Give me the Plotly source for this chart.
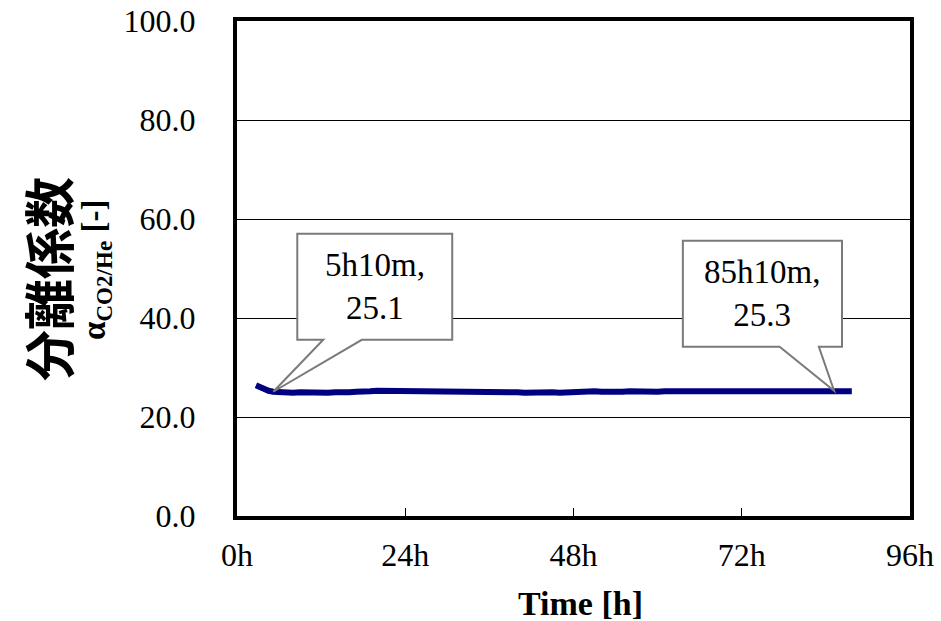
import plotly.graph_objects as go

# ---- data ----
time_h = [2.7, 3.2, 3.8, 4.5, 5.17, 6, 7, 8, 9, 10, 11, 12, 13, 14, 15, 16, 17, 18, 19, 20,
          21, 22, 23, 24, 25, 26, 27, 28, 29, 30, 31, 32, 33, 34, 35, 36, 37, 38, 39, 40,
          41, 42, 43, 44, 45, 46, 47, 48, 49, 50, 51, 52, 53, 54, 55, 56, 57, 58, 59, 60,
          61, 62, 63, 64, 65, 66, 67, 68, 69, 70, 71, 72, 73, 74, 75, 76, 77, 78, 79, 80,
          81, 82, 83, 84, 85.17, 86, 87, 87.7]
alpha = [26.4, 26.0, 25.6, 25.3, 25.1, 25.0, 24.9, 24.9, 25.0, 24.9, 24.9, 24.9, 24.9, 25.0, 24.9, 25.0, 25.1, 25.0, 25.2, 25.3,
         25.3, 25.2, 25.3, 25.2, 25.2, 25.1, 25.1, 25.1, 25.1, 25.1, 25.1, 25.1, 25.0, 25.2, 25.1, 25.1, 25.0, 25.2, 25.1, 25.0,
         24.9, 25.0, 24.9, 25.0, 25.0, 24.9, 25.0, 25.1, 25.0, 25.1, 25.2, 25.1, 25.0, 25.1, 25.1, 25.2, 25.1, 25.1, 25.2, 25.1,
         25.2, 25.2, 25.1, 25.2, 25.3, 25.2, 25.1, 25.2, 25.3, 25.2, 25.2, 25.3, 25.2, 25.3, 25.3, 25.3, 25.2, 25.3, 25.3, 25.2,
         25.3, 25.3, 25.2, 25.3, 25.3, 25.2, 25.3, 25.2]

x_ticks = [0, 24, 48, 72, 96]
x_tick_labels = ["0h", "24h", "48h", "72h", "96h"]
y_ticks = [0, 20, 40, 60, 80, 100]
y_tick_labels = ["0.0", "20.0", "40.0", "60.0", "80.0", "100.0"]

callout_points = [(5.17, 25.1, "5h10m,<br>25.1"), (85.17, 25.3, "85h10m,<br>25.3")]
# box extents (x0, x1, y0, y1) and pointer base (bx0, bx1), in data units
callout_boxes = [(8.6, 30.7, 35.6, 57.0, 12.3, 17.8), (63.6, 86.3, 34.2, 55.6, 77.4, 83.0)]

SERIF = "Times New Roman, Liberation Serif, serif"

L, R, T, B = 237, 31, 21, 105
W, H = 941, 621
pw, ph = W - L - R, H - T - B


def px2paper(x, y):
    return (x - L) / pw, 1 - (y - T) / ph


fig = go.Figure()
fig.add_trace(go.Scatter(x=time_h, y=alpha, mode="lines",
                         line=dict(color="#000080", width=6), hoverinfo="skip"))

shapes = []
annotations = []
for (px, py, txt), (x0, x1, y0, y1, b0, b1) in zip(callout_points, callout_boxes):
    path = (f"M {x0},{y1} L {x1},{y1} L {x1},{y0} L {b1},{y0} L {px},{py} "
            f"L {b0},{y0} L {x0},{y0} Z")
    shapes.append(dict(type="path", path=path, xref="x", yref="y",
                       fillcolor="white", line=dict(color="#7a7a7a", width=2), layer="above"))
    annotations.append(dict(x=(x0 + x1) / 2, y=(y0 + y1) / 2, xref="x", yref="y",
                            xanchor="center", yanchor="middle",
                            text=txt, showarrow=False,
                            font=dict(family=SERIF, size=33, color="black")))

for (xp, yp, txt, fam, size, ang) in [
    (47, 279, "<b>分離係数</b>", "Noto Sans CJK JP", 51, -90),
    (96, 270, "<b>α<sub>CO2/He</sub> [-]</b>", SERIF, 33, -90),
    (580, 603, "<b>Time [h]</b>", SERIF, 34, 0),
]:
    ax, ay = px2paper(xp, yp)
    annotations.append(dict(x=ax, y=ay, xref="paper", yref="paper",
                            xanchor="center", yanchor="middle", text=txt,
                            showarrow=False, textangle=ang,
                            font=dict(family=fam, size=size, color="black")))

fig.update_layout(
    width=W, height=H,
    margin=dict(l=L, r=R, t=T, b=B, pad=0, autoexpand=False),
    paper_bgcolor="white", plot_bgcolor="white",
    showlegend=False,
    shapes=shapes, annotations=annotations,
    xaxis=dict(range=[0, 96], tickvals=x_ticks, ticktext=x_tick_labels,
               showgrid=False, zeroline=False, showline=True, linecolor="black",
               linewidth=4, mirror=True, ticks="inside", ticklen=8, tickwidth=1,
               tickcolor="black", ticklabelstandoff=8, automargin=False,
               tickfont=dict(family=SERIF, size=32, color="black")),
    yaxis=dict(range=[0, 100], tickvals=y_ticks, ticktext=y_tick_labels,
               showgrid=True, gridcolor="black", gridwidth=1, zeroline=False,
               showline=True, linecolor="black", linewidth=4, mirror=True,
               ticks="", ticklabelstandoff=31, automargin=False,
               tickfont=dict(family=SERIF, size=32, color="black")),
)

fig.write_html("out.html")
